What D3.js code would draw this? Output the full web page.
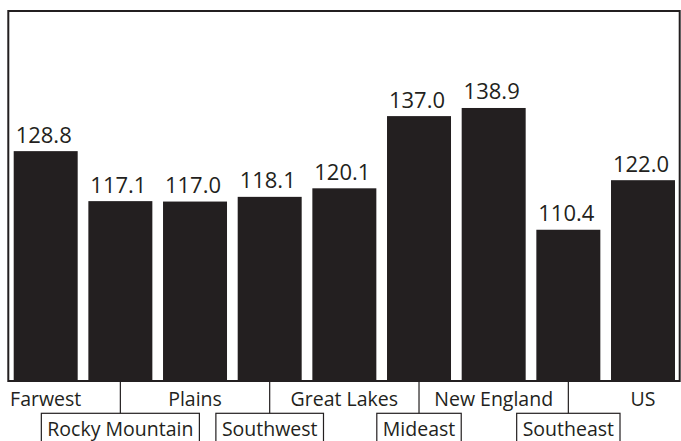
<!DOCTYPE html>
<html>
<head>
<meta charset="utf-8">
<script src="https://cdn.jsdelivr.net/npm/d3@7"></script>
<style>
  html, body { margin: 0; padding: 0; background: #fff; }
  svg { display: block; }
  text { font-family: "Open Sans", "Noto Sans", sans-serif; fill: #231f20; }
</style>
</head>
<body>
<svg id="chart" width="681" height="441"></svg>
<script>
// Regional index values
const regions = ["Farwest", "Rocky Mountain", "Plains", "Southwest", "Great Lakes",
                 "Mideast", "New England", "Southeast", "US"];
const values  = [128.8, 117.1, 117.0, 118.1, 120.1, 137.0, 138.9, 110.4, 122.0];
const valueDomain = [75, 161.6];

const svg = d3.select("#chart");
const ink = "#231f20";

const frame = { left: 8.3, top: 11, right: 679.7, bottom: 381 };

const x = d3.scaleBand()
  .domain(regions)
  .range([13.7, 675])
  .paddingInner(0.143)
  .paddingOuter(0);

const y = d3.scaleLinear()
  .domain(valueDomain)
  .range([frame.bottom, frame.top]);

// Bars
svg.append("g").selectAll("rect")
  .data(regions)
  .join("rect")
  .attr("x", d => x(d))
  .attr("width", x.bandwidth())
  .attr("y", (d, i) => y(values[i]))
  .attr("height", (d, i) => frame.bottom - y(values[i]))
  .attr("fill", ink);

// Value labels above each bar
svg.append("g").selectAll("text")
  .data(regions)
  .join("text")
  .attr("x", d => x(d) + x.bandwidth() / 2 - 2)
  .attr("y", (d, i) => y(values[i]) - 8.5)
  .attr("text-anchor", "middle")
  .style("font-size", "22px")
  .text((d, i) => values[i].toFixed(1));

// Plot frame
svg.append("rect")
  .attr("x", frame.left)
  .attr("y", frame.top)
  .attr("width", frame.right - frame.left)
  .attr("height", frame.bottom - frame.top)
  .attr("fill", "none")
  .attr("stroke", ink)
  .attr("stroke-width", 2);

// Category labels: alternating rows, lower row boxed with a leader up to the frame
const labels = svg.append("g");
const boxTop = 413.3;
regions.forEach((name, i) => {
  const cx = x(name) + x.bandwidth() / 2;
  if (i % 2 === 0) {
    labels.append("text")
      .attr("x", cx)
      .attr("y", 406)
      .attr("text-anchor", "middle")
      .style("font-size", "19.5px")
      .text(name);
  } else {
    labels.append("line")
      .attr("x1", cx).attr("x2", cx)
      .attr("y1", frame.bottom).attr("y2", boxTop)
      .attr("stroke", ink).attr("stroke-width", 1.2);
    const t = labels.append("text")
      .attr("x", cx)
      .attr("y", 435.7)
      .attr("text-anchor", "middle")
      .style("font-size", "19.5px")
      .text(name);
    const w = t.node().getComputedTextLength();
    labels.insert("rect", "text")
      .attr("x", cx - w / 2 - 6)
      .attr("y", boxTop)
      .attr("width", w + 12)
      .attr("height", 40)
      .attr("fill", "#fff")
      .attr("stroke", ink)
      .attr("stroke-width", 1.2);
  }
});
</script>
</body>
</html>
